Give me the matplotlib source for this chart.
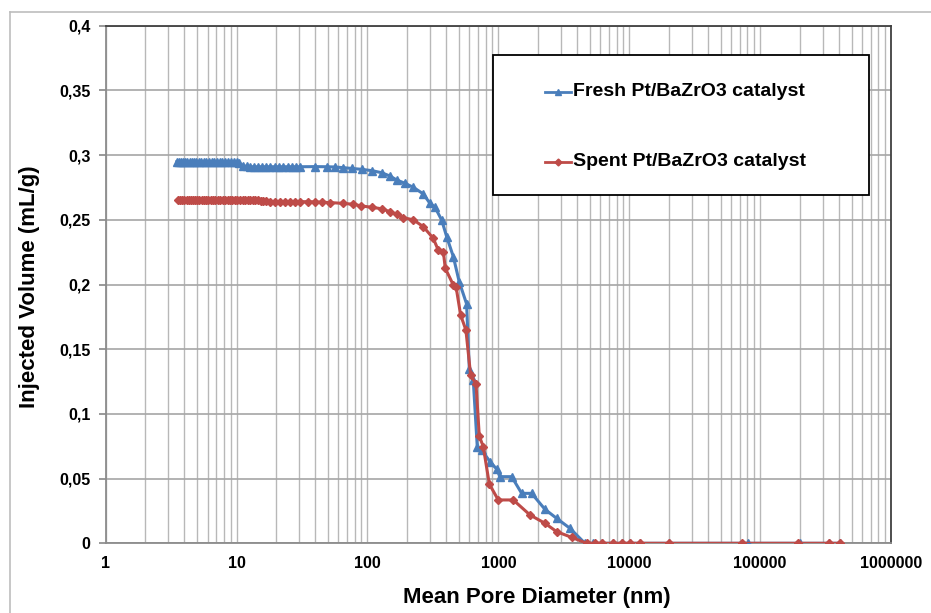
import matplotlib
matplotlib.use("Agg")
import matplotlib.pyplot as plt
from matplotlib.ticker import FixedLocator, FuncFormatter, LogLocator, NullFormatter
from matplotlib.lines import Line2D
from matplotlib.patches import Rectangle

plt.rcParams['font.family'] = ['Liberation Sans', 'DejaVu Sans']

fresh_label = "Fresh Pt/BaZrO3 catalyst"
spent_label = "Spent Pt/BaZrO3 catalyst"

fresh_x = [3.49, 3.62, 3.75, 3.9, 4.05, 4.2, 4.37, 4.55, 4.74, 4.94, 5.15, 5.38, 5.62, 5.88,
           6.15, 6.44, 6.75, 7.08, 7.43, 7.8, 8.2, 8.62, 9.07, 9.55, 10.05, 10.5, 11.2, 12.0,
           12.6, 13.5, 14.5, 15.6, 16.8, 18.1, 19.5, 21, 22.7, 24.5, 26.5, 28.6, 30.6,
           39.7, 48.8, 56.5, 65.3, 75.7, 90.3, 107.6, 128.5, 148.6, 167, 193.5, 224, 267,
           300, 328, 369, 403, 453, 502, 572, 600, 643, 690, 745, 863, 970, 1028, 1264,
           1507, 1796, 2268, 2788, 3524, 4590, 5310, 6150, 7550, 8750, 10120, 12070, 20200,
           81100, 201000, 337000, 407000]
fresh_y = [0.2948, 0.2945, 0.2945, 0.2945, 0.2945, 0.2945, 0.2945, 0.2945, 0.2945, 0.2945,
           0.2945, 0.2945, 0.2945, 0.2945, 0.2945, 0.2945, 0.2945, 0.2945, 0.2945, 0.2945,
           0.2945, 0.2945, 0.2945, 0.2944, 0.2943, 0.2937, 0.2918, 0.2912,
           0.291, 0.291, 0.291, 0.291, 0.291, 0.291, 0.291, 0.291, 0.291, 0.291, 0.291, 0.291, 0.291,
           0.2911, 0.291, 0.2908, 0.2903, 0.2897, 0.289, 0.288, 0.2864, 0.2838, 0.2808, 0.2782,
           0.2751, 0.270, 0.2627, 0.2597, 0.2498, 0.2369, 0.2215, 0.2022, 0.185, 0.1345,
           0.1262, 0.0747, 0.0721, 0.0631, 0.0574, 0.0515, 0.0515, 0.0386, 0.0386, 0.0263,
           0.0193, 0.0116, 0.0, 0, 0, 0, 0, 0, 0, 0, 0, 0, 0, 0]

spent_x = [3.59, 3.72, 3.86, 4.0, 4.15, 4.31, 4.47, 4.64, 4.82, 5.0, 5.2, 5.4, 5.62, 5.85,
           6.1, 6.35, 6.62, 6.9, 7.2, 7.5, 7.83, 8.17, 8.53, 8.9, 9.3, 9.72, 10.15, 10.6,
           11.1, 11.6, 12.15, 12.7, 13.3, 13.9, 14.6, 15.3, 16.0, 16.8, 18.0,
           19.5, 21.5, 23.5, 25.5, 28, 30.6, 35, 40, 45, 52, 65, 78, 90, 107.6, 128.5,
           148.6, 167, 188, 224, 267, 318, 347, 380, 393, 453, 475, 515, 565, 614, 675,
           715, 767, 853, 998, 1300, 1745, 2268, 2788, 3630, 4730, 5470, 6150, 7550, 8750,
           10120, 12070, 20200, 72200, 195500, 337000, 407000]
spent_y = [0.2655, 0.2653, 0.2653, 0.2653, 0.2653, 0.2653, 0.2653, 0.2653, 0.2653, 0.2653,
           0.2653, 0.2653, 0.2653, 0.2653, 0.2653, 0.2653, 0.2653, 0.2653, 0.2653, 0.2653,
           0.2653, 0.2653, 0.2653, 0.2653, 0.2653, 0.2653, 0.2653, 0.2653, 0.2653, 0.2653,
           0.2653, 0.2653, 0.2652, 0.2651, 0.265, 0.2648, 0.2646, 0.2643, 0.264,
           0.264, 0.264, 0.264, 0.264, 0.264, 0.264, 0.264, 0.2638, 0.2636, 0.2633, 0.2627,
           0.262, 0.2607, 0.2597, 0.2585, 0.2563, 0.2542, 0.2516, 0.2500, 0.2447, 0.2357,
           0.2267, 0.2254, 0.2125, 0.1996, 0.1983, 0.1764, 0.1648, 0.130, 0.1231, 0.0829,
           0.0747, 0.0458, 0.0335, 0.0335, 0.0219, 0.0155, 0.009, 0.0046, 0, 0, 0, 0, 0,
           0, 0, 0, 0, 0, 0, 0]

y_ticks = [0, 0.05, 0.1, 0.15, 0.2, 0.25, 0.3, 0.35, 0.4]
x_ticks = [1, 10, 100, 1000, 10000, 100000, 1000000]

blue = '#4A7EBB'
red = '#BE4B48'
grid_c = '#B8B8B8'

fig = plt.figure(figsize=(9.31, 6.13), dpi=100)
W, H = 931, 613
ax = fig.add_axes([105.7 / W, 1 - 543.3 / H, (891 - 105.7) / W, (543.3 - 25.7) / H])

ax.plot(fresh_x, fresh_y, color=blue, lw=2.2, marker='^', ms=5.5, mec=blue, mfc=blue,
        label=fresh_label, zorder=3)
ax.plot(spent_x, spent_y, color=red, lw=2.2, marker='D', ms=3.8, mec=red, mfc=red,
        label=spent_label, zorder=4)

ax.set_xscale('log')
ax.set_xlim(1, 1e6)
ax.set_ylim(0, 0.4)
ax.xaxis.set_major_locator(FixedLocator(x_ticks))
ax.xaxis.set_minor_locator(LogLocator(base=10, subs=range(2, 10), numticks=100))
ax.xaxis.set_minor_formatter(NullFormatter())
ax.xaxis.set_major_formatter(FuncFormatter(lambda v, p: f"{int(round(v))}"))
ax.yaxis.set_major_locator(FixedLocator(y_ticks))
ax.yaxis.set_major_formatter(FuncFormatter(lambda v, p: f"{v:g}".replace('.', ',')))

ax.grid(True, which='major', axis='y', color='#A6A6A6', lw=1.2)
ax.grid(True, which='both', axis='x', color=grid_c, lw=1.0)
ax.set_axisbelow(True)

ax.tick_params(axis='x', which='both', length=0, pad=9, labelsize=11.5)
ax.tick_params(axis='y', which='major', length=5, color='#888888', width=1.2, pad=6, labelsize=11.5)
for lab in ax.get_xticklabels() + ax.get_yticklabels():
    lab.set_fontweight('bold')

for s in ['left', 'bottom']:
    ax.spines[s].set_color('#8C8C8C')
    ax.spines[s].set_linewidth(1.3)
for s in ['top', 'right']:
    ax.spines[s].set_color('#404040')
    ax.spines[s].set_linewidth(1.3)

fig.text(((105.7 + 891) / 2 + 38) / W, 1 - 598 / H, "Mean Pore Diameter (nm)", fontsize=16,
         fontweight='bold', ha='center', va='center')
fig.text(30 / W, 1 - 287 / H, "Injected Volume (mL/g)", fontsize=16, fontweight='bold',
         ha='center', va='center', rotation=90)

# legend box drawn in figure pixel coordinates
lx0, lx1, ly0, ly1 = 493, 869, 55, 195
fig.patches.append(Rectangle((lx0 / W, 1 - ly1 / H), (lx1 - lx0) / W, (ly1 - ly0) / H,
                             transform=fig.transFigure, fill=True, facecolor='white',
                             edgecolor='black', lw=1.3, zorder=10))
for yy, col, mk, ms, lab in [(91.7, blue, '^', 5, fresh_label), (161.7, red, 'D', 3.5, spent_label)]:
    fig.lines.append(Line2D([545 / W, 571 / W], [1 - yy / H] * 2, transform=fig.transFigure,
                            color=col, lw=2, zorder=11))
    fig.lines.append(Line2D([558 / W], [1 - yy / H], transform=fig.transFigure, marker=mk,
                            ms=ms, color=col, zorder=12))
    fig.text(573 / W, 1 - yy / H, lab, fontsize=14, fontweight='bold', va='center', ha='left',
             zorder=13)

# outer chart frame (partly visible)
fig.lines.append(Line2D([10 / W, 10 / W], [0, 1 - 11.7 / H], transform=fig.transFigure,
                        color='#BDBDBD', lw=1.2))
fig.lines.append(Line2D([10 / W, 1], [1 - 11.7 / H] * 2, transform=fig.transFigure,
                        color='#BDBDBD', lw=1.2))

fig.savefig("out.png", dpi=100)
